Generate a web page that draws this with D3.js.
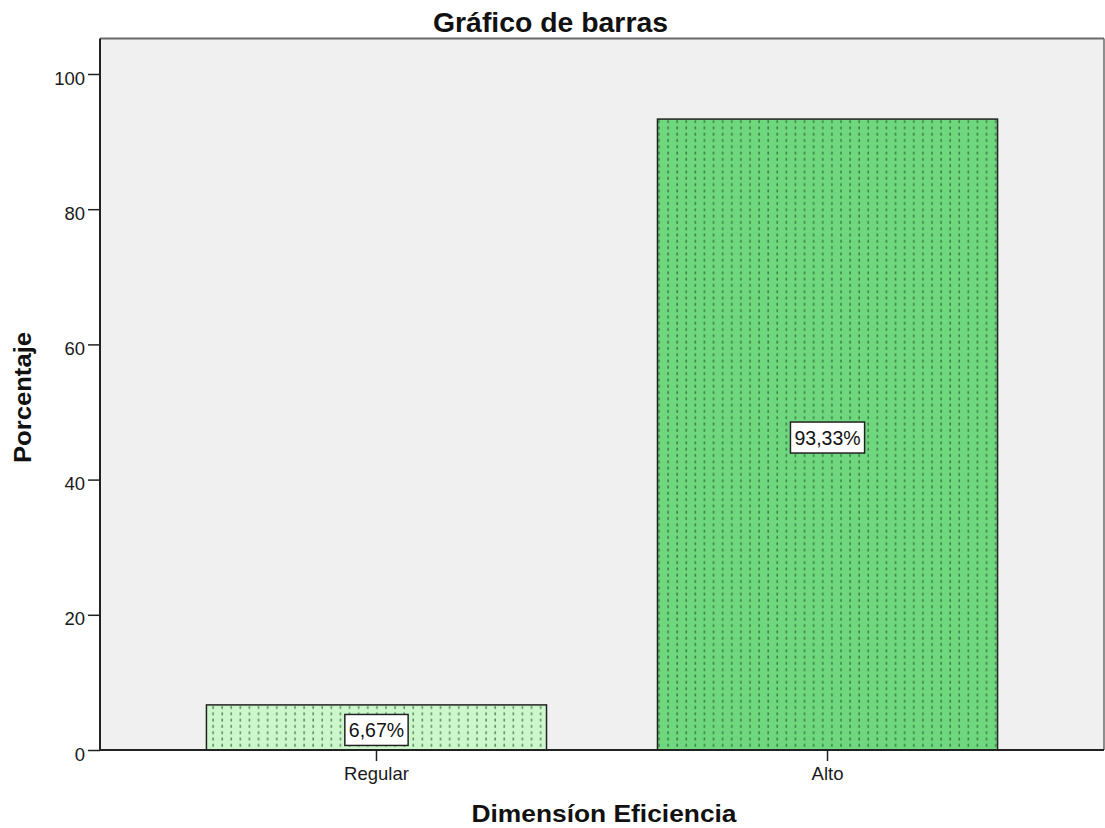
<!DOCTYPE html>
<html><head><meta charset="utf-8">
<script src="https://cdn.jsdelivr.net/npm/d3@7"></script>
<style>body{margin:0;background:#fff}svg{display:block}</style>
</head><body>
<script>
const categories = ["Regular", "Alto"];
const values = [6.67, 93.33];
const valueLabels = ["6,67%", "93,33%"];
const yTicks = [0, 20, 40, 60, 80, 100];
const fills = ["#ccf7cc", "#6fd87f"];
const title = "Gráfico de barras";
const xTitle = "Dimensíon Eficiencia";
const yTitle = "Porcentaje";

const W = 1105, H = 828;
const m = {left: 100, right: 1104, top: 38.5, bottom: 750};
const svg = d3.select("body").append("svg").attr("width", W).attr("height", H);
const font = "'Liberation Sans', Arial, sans-serif";

const defs = svg.append("defs");
fills.forEach((f, i) => {
  const p = defs.append("pattern").attr("id", "pat" + i).attr("patternUnits", "userSpaceOnUse")
    .attr("width", 9.1).attr("height", 6.3);
  p.append("rect").attr("width", 9.1).attr("height", 6.3).attr("fill", f);
  p.append("rect").attr("x", 3).attr("y", 0.5).attr("width", 1.6).attr("height", 2.8)
    .attr("fill", i === 0 ? "#5f8f5f" : "#3e7d48");
});

const x = d3.scaleBand().domain(categories).range([m.left, m.right]).paddingInner(0.246).paddingOuter(0.236);
const y = d3.scaleLinear().domain([0, 105.25]).range([m.bottom, m.top]);

svg.append("rect").attr("x", m.left).attr("y", m.top).attr("width", m.right - m.left).attr("height", m.bottom - m.top)
  .attr("fill", "#f0f0f0");
svg.append("line").attr("x1", m.left).attr("x2", m.right).attr("y1", m.top).attr("y2", m.top)
  .attr("stroke", "#6a6a6a").attr("stroke-width", 2);
svg.append("line").attr("x1", m.right).attr("x2", m.right).attr("y1", m.top).attr("y2", m.bottom)
  .attr("stroke", "#6a6a6a").attr("stroke-width", 1.5);

svg.selectAll(".bar").data(categories).enter().append("rect")
  .attr("x", d => x(d)).attr("y", (d, i) => y(values[i]))
  .attr("width", x.bandwidth()).attr("height", (d, i) => y(0) - y(values[i]))
  .attr("fill", (d, i) => `url(#pat${i})`).attr("stroke", "#222").attr("stroke-width", 1.5);

// axes
const yAxis = svg.append("g").attr("transform", `translate(${m.left},0)`)
  .call(d3.axisLeft(y).tickValues(yTicks).tickSize(12).tickPadding(3).tickFormat(d3.format("d")));
const xAxis = svg.append("g").attr("transform", `translate(0,${m.bottom})`)
  .call(d3.axisBottom(x).tickSize(11).tickPadding(4));
[yAxis, xAxis].forEach(a => {
  a.select(".domain").attr("stroke", "#222").attr("stroke-width", 2);
  a.selectAll(".tick line").attr("stroke", "#222").attr("stroke-width", 1.5);
  a.selectAll(".tick text").attr("font-family", font).attr("font-size", 18.5).attr("fill", "#1a1a1a");
});
yAxis.selectAll(".tick text").attr("dy", "0.55em");
xAxis.selectAll(".tick text").attr("y", 0).attr("dy", 0).attr("transform", "translate(0,780)")
  .attr("transform", null).attr("y", 30);
yAxis.select(".domain").attr("d", `M0,${m.top}V${m.bottom}`);
xAxis.select(".domain").attr("d", `M${m.left},0H${m.right}`);

// value labels
categories.forEach((c, i) => {
  const cx = x(c) + x.bandwidth() / 2;
  const cy = (y(values[i]) + y(0)) / 2 + (i === 0 ? 2.5 : 3);
  const g = svg.append("g");
  const t = g.append("text").attr("x", cx).attr("y", cy + 7).attr("text-anchor", "middle")
    .attr("font-family", font).attr("font-size", 19.5).attr("fill", "#111")
    .text(valueLabels[i]);
  const bb = t.node().getBBox();
  g.insert("rect", "text").attr("x", cx - bb.width / 2 - 4).attr("y", cy - 15.5).attr("width", bb.width + 8).attr("height", 31)
    .attr("fill", "#fff").attr("stroke", "#222").attr("stroke-width", 1.5);
});

svg.append("text").attr("x", 550.5).attr("y", 32).attr("text-anchor", "middle").attr("font-family", font)
  .attr("font-weight", "bold").attr("font-size", 27).attr("textLength", 235).attr("lengthAdjust", "spacingAndGlyphs")
  .attr("fill", "#111").text(title);
svg.append("text").attr("x", 604).attr("y", 822).attr("text-anchor", "middle").attr("font-family", font)
  .attr("font-weight", "bold").attr("font-size", 24).attr("textLength", 265).attr("lengthAdjust", "spacingAndGlyphs")
  .attr("fill", "#111").text(xTitle);
svg.append("text").attr("transform", "translate(31,397.5) rotate(-90)").attr("text-anchor", "middle").attr("font-family", font)
  .attr("font-weight", "bold").attr("font-size", 24).attr("textLength", 131).attr("lengthAdjust", "spacingAndGlyphs")
  .attr("fill", "#111").text(yTitle);
</script>
</body></html>
